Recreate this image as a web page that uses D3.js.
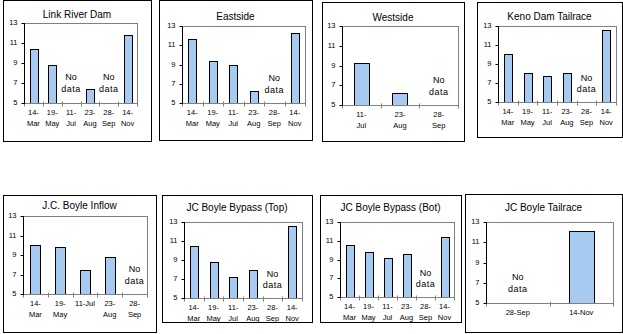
<!DOCTYPE html>
<html><head><meta charset="utf-8">
<script src="https://cdn.jsdelivr.net/npm/d3@7"></script>
<style>
html,body{margin:0;padding:0;background:#fff;}
svg{display:block;font-family:"Liberation Sans",Arial,sans-serif;}
</style></head>
<body><svg id="c" width="623" height="334"></svg>
<script>
// ---- data ----
const titles = ["Link River Dam","Eastside","Westside","Keno Dam Tailrace",
  "J.C. Boyle Inflow","JC Boyle Bypass (Top)","JC Boyle Bypass (Bot)","JC Boyle Tailrace"];
const catsSix = ["14-\nMar","19-\nMay","11-\nJul","23-\nAug","28-\nSep","14-\nNov"];
const catsWest = ["11-\nJul","23-\nAug","28-\nSep"];
const catsInflow = ["14-\nMar","19-\nMay","11-Jul","23-\nAug","28-\nSep"];
const catsTail = ["28-Sep","14-Nov"];
const valsLinkRiver = [10.4, 8.8, null, 6.4, null, 11.8];
const valsEastside = [11.6, 9.4, 9.0, 6.2, null, 12.3];
const valsWestside = [9.3, 6.2, null];
const valsKeno = [10.1, 8.1, 7.7, 8.1, null, 12.6];
const valsInflow = [10.0, 9.8, 7.5, 8.8, null];
const valsBypassTop = [10.5, 8.8, 7.2, 7.9, null, 12.6];
const valsBypassBot = [10.6, 9.8, 9.2, 9.6, null, 11.4];
const valsTailrace = [null, 12.1];
const yTicks = [5, 7, 9, 11, 13];
const yDomain = [5, 13];

// ---- layout (positions only) ----
const layout = [
  {box:[3,0,151,141],  plot:[24,23,137,103], ty:15},
  {box:[159,0,312,140],plot:[182,26,305,103], ty:17},
  {box:[322,2,464,141],plot:[342,26,458,105], ty:18},
  {box:[477,2,622,137],plot:[498,26,616,102], ty:17},
  {box:[3,195,156,332],plot:[23,216,147,294], ty:206},
  {box:[162,195,312,322],plot:[184,222,302,298], ty:208},
  {box:[320,195,461,322],plot:[340,222,454,297], ty:208},
  {box:[465,194,622,332],plot:[486,222,613,303], ty:208}
];
const panels = [
  {cats:catsSix, vals:valsLinkRiver},
  {cats:catsSix, vals:valsEastside},
  {cats:catsWest, vals:valsWestside},
  {cats:catsSix, vals:valsKeno},
  {cats:catsInflow, vals:valsInflow},
  {cats:catsSix, vals:valsBypassTop},
  {cats:catsSix, vals:valsBypassBot},
  {cats:catsTail, vals:valsTailrace}
];

const svg = d3.select("#c");
panels.forEach((p, i) => {
  const L = layout[i];
  const [bx1,by1,bx2,by2] = L.box;
  const [px1,py1,px2,py2] = L.plot;
  const g = svg.append("g");
  g.append("rect").attr("x",bx1+0.5).attr("y",by1+0.5)
    .attr("width",bx2-bx1).attr("height",by2-by1)
    .attr("fill","#fff").attr("stroke","#000").attr("stroke-width",1);
  g.append("text").attr("x",(bx1+bx2)/2).attr("y",L.ty).attr("text-anchor","middle")
    .attr("dominant-baseline","middle").attr("font-size",10).text(titles[i]);

  const x = d3.scaleBand().domain(p.cats).range([px1,px2]).paddingInner(0.6).paddingOuter(0.3);
  const xb = d3.scaleBand().domain(p.cats).range([px1,px2]);
  const y = d3.scaleLinear().domain(yDomain).range([py2,py1]);

  // plot border (gray)
  g.append("rect").attr("x",px1+0.5).attr("y",py1+0.5).attr("width",px2-px1).attr("height",py2-py1)
    .attr("fill","none").attr("stroke","#808080");

  // bars
  g.selectAll("rect.bar").data(p.cats.map((c,j)=>({c, v:p.vals[j]})).filter(d=>d.v!=null))
    .enter().append("rect").attr("class","bar")
    .attr("x",d=>Math.round(x(d.c))+0.5).attr("y",d=>Math.round(y(d.v))+0.5)
    .attr("width",d=>Math.round(x.bandwidth())).attr("height",d=>Math.round(y(yDomain[0]))-Math.round(y(d.v)))
    .attr("fill","#A6CAF0").attr("stroke","#000").attr("stroke-width",1);

  // no data labels
  p.cats.forEach((c,j)=>{
    if (p.vals[j]==null) {
      const cx = xb(c)+xb.bandwidth()/2;
      g.append("text").attr("x",cx).attr("y",y(7.5)).attr("text-anchor","middle")
        .attr("dominant-baseline","middle").attr("font-size",9).text("No");
      g.append("text").attr("x",cx).attr("y",y(6.3)).attr("text-anchor","middle")
        .attr("dominant-baseline","middle").attr("font-size",9).attr("letter-spacing",0.5).text("data");
    }
  });

  // x axis
  const xa = g.append("g").attr("transform",`translate(0,${py2+0.5})`);
  xa.append("line").attr("x1",px1).attr("x2",px2+1).attr("stroke","#808080");
  p.cats.forEach((c,j)=>{
    const tx = Math.round(xb(c))+0.5;
    xa.append("line").attr("x1",tx).attr("x2",tx).attr("y1",-2).attr("y2",3).attr("stroke","#808080");
  });
  xa.append("line").attr("x1",px2+0.5).attr("x2",px2+0.5).attr("y1",-2).attr("y2",3).attr("stroke","#808080");
  p.cats.forEach((c)=>{
    const cx = xb(c)+xb.bandwidth()/2;
    const lines = c.split("\n");
    lines.forEach((t,k)=>{
      xa.append("text").attr("x",cx).attr("y",10+k*11).attr("text-anchor","middle")
        .attr("dominant-baseline","middle").attr("font-size",7.5).text(t);
    });
  });

  // y axis
  const ya = g.append("g").attr("transform",`translate(${px1+0.5},0)`);
  ya.append("line").attr("y1",py1).attr("y2",py2+1).attr("stroke","#000");
  yTicks.forEach(t=>{
    const ty = Math.round(y(t))+0.5;
    ya.append("line").attr("x1",-3).attr("x2",0).attr("y1",ty).attr("y2",ty).attr("stroke","#000");
    ya.append("text").attr("x",-7).attr("y",ty).attr("text-anchor","end")
      .attr("dominant-baseline","middle").attr("font-size",7.5).text(t);
  });
});
</script></body></html>
